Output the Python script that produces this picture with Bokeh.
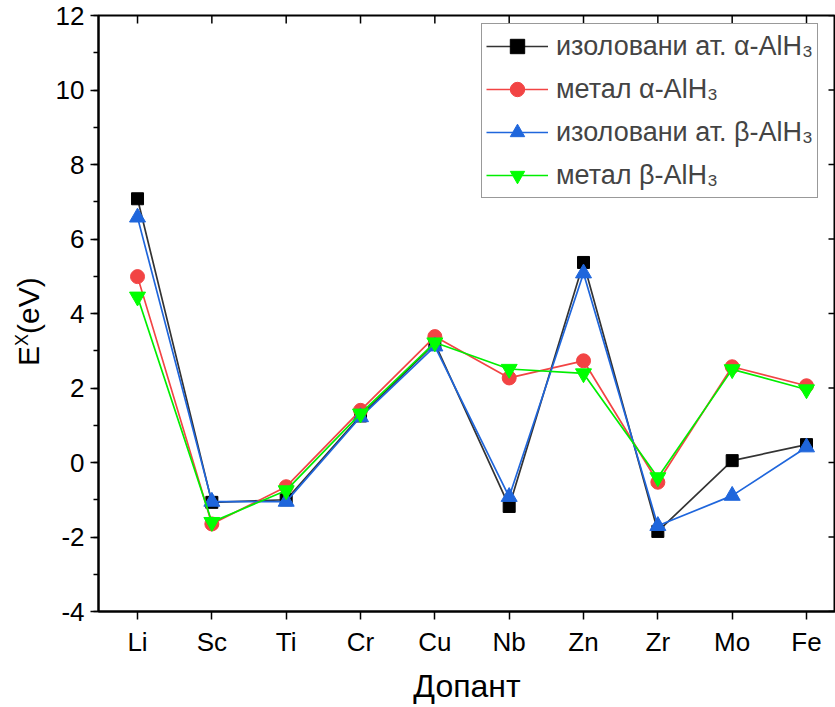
import math
from bokeh.plotting import figure
from bokeh.models import (Range1d, FixedTicker, SingleIntervalTicker,
                          Legend, LegendItem, Div)
from bokeh.layouts import row
from bokeh.embed import file_html
from bokeh.resources import INLINE

# ---- data ----
dopants = ["Li", "Sc", "Ti", "Cr", "Cu", "Nb", "Zn", "Zr", "Mo", "Fe"]
iso_alpha = [7.08, -1.07, -1.00, 1.25, 3.20, -1.18, 5.37, -1.85, 0.05, 0.48]
met_alpha = [4.99, -1.65, -0.65, 1.40, 3.38, 2.27, 2.73, -0.53, 2.57, 2.06]
iso_beta = [6.58, -1.05, -1.05, 1.22, 3.12, -0.92, 5.08, -1.70, -0.89, 0.41]
met_beta = [4.45, -1.60, -0.75, 1.31, 3.22, 2.51, 2.39, -0.40, 2.50, 1.96]
labels = ["изоловани ат. α-AlH₃", "метал α-AlH₃",
          "изоловани ат. β-AlH₃", "метал β-AlH₃"]
y_ticks = [-4, -2, 0, 2, 4, 6, 8, 10, 12]

xs = list(range(1, len(dopants) + 1))
X_START, X_END = 0.475, 10.39
Y_START, Y_END = -4, 12
FONT = "Liberation Sans"
LEFT_W = 50

p = figure(width=835 - LEFT_W, height=707,
           x_range=Range1d(X_START, X_END), y_range=Range1d(Y_START, Y_END),
           output_backend="svg", toolbar_location=None,
           min_border_left=98 - LEFT_W, min_border_right=0,
           min_border_top=15, min_border_bottom=96,
           background_fill_color="white", border_fill_color="white",
           margin=(0, 0, 0, 0))
p.outline_line_color = "black"
p.outline_line_width = 2
p.xgrid.visible = False
p.ygrid.visible = False

# bottom axis
xa = p.xaxis[0]
xa.ticker = FixedTicker(ticks=xs)
xa.major_label_overrides = {i: d for i, d in zip(xs, dopants)}
xa.major_label_text_font = FONT
xa.major_label_text_font_size = "26px"
xa.major_label_text_color = "black"
xa.major_tick_in = 0
xa.major_tick_out = 8
xa.minor_tick_line_color = None
xa.axis_line_width = 2
xa.major_tick_line_width = 1.5
xa.major_label_standoff = 7
xa.axis_label = "Допант"
xa.axis_label_text_font = FONT
xa.axis_label_text_font_style = "normal"
xa.axis_label_text_font_size = "32px"
xa.axis_label_text_color = "black"
xa.axis_label_standoff = 8

# left axis
ya = p.yaxis[0]
ya.ticker = SingleIntervalTicker(interval=2, num_minor_ticks=2)
ya.major_label_overrides = {t: str(t) for t in y_ticks}
ya.major_label_text_font = FONT
ya.major_label_text_font_size = "26px"
ya.major_label_text_color = "black"
ya.major_tick_in = 0
ya.major_tick_out = 8
ya.minor_tick_in = 0
ya.minor_tick_out = 5
ya.axis_line_width = 2
ya.major_tick_line_width = 1.5
ya.minor_tick_line_width = 1.5
ya.major_label_standoff = 6

# inward ticks on the top and right frame edges (half of each dash is clipped)
p.scatter(xs, [Y_END] * len(xs), marker="dash", angle=math.pi / 2, size=16,
          line_color="black", line_width=1.5)
p.scatter([X_END] * len(y_ticks), y_ticks, marker="dash", size=14,
          line_color="black", line_width=1.5)

# series
specs = [
    (iso_alpha, "#333333", "black", "square", 12),
    (met_alpha, "#f24444", "#f24444", "circle", 14),
    (iso_beta, "#1f66dc", "#1f66dc", "triangle", 16),
    (met_beta, "#00ee00", "#00ff00", "inverted_triangle", 16),
]
items = []
for (ys, lc, mc, mk, sz), lab in zip(specs, labels):
    rl = p.line(xs, ys, line_color=lc, line_width=1.7)
    rm = p.scatter(xs, ys, marker=mk, size=sz, fill_color=mc, line_color=mc)
    items.append(LegendItem(label=lab, renderers=[rl, rm]))

legend = Legend(items=items, location=(383, 413), margin=0, padding=4,
                spacing=7, glyph_width=62, glyph_height=36, label_height=36,
                label_standoff=8, label_text_font=FONT,
                label_text_font_size="27px", border_line_color="#333333",
                border_line_width=1, background_fill_color="white",
                background_fill_alpha=1)
p.add_layout(legend)

# y axis title E^X (eV), rotated HTML text to the left of the figure
ytitle = Div(
    text=('<div style="position:absolute; left:14px; top:366px; '
          'transform-origin:left top; transform:rotate(-90deg); '
          'white-space:nowrap; font-family:\'Liberation Sans\'; '
          'font-size:30px; line-height:30px; color:black;">'
          'E<span style="font-size:18px; position:relative; top:-11px;">X</span>'
          '(eV)</div>'),
    width=LEFT_W, height=707, margin=(0, 0, 0, 0),
    styles={"position": "relative", "overflow": "visible"})

layout = row(ytitle, p, spacing=0)
open("out.html", "w").write(file_html(layout, INLINE))
